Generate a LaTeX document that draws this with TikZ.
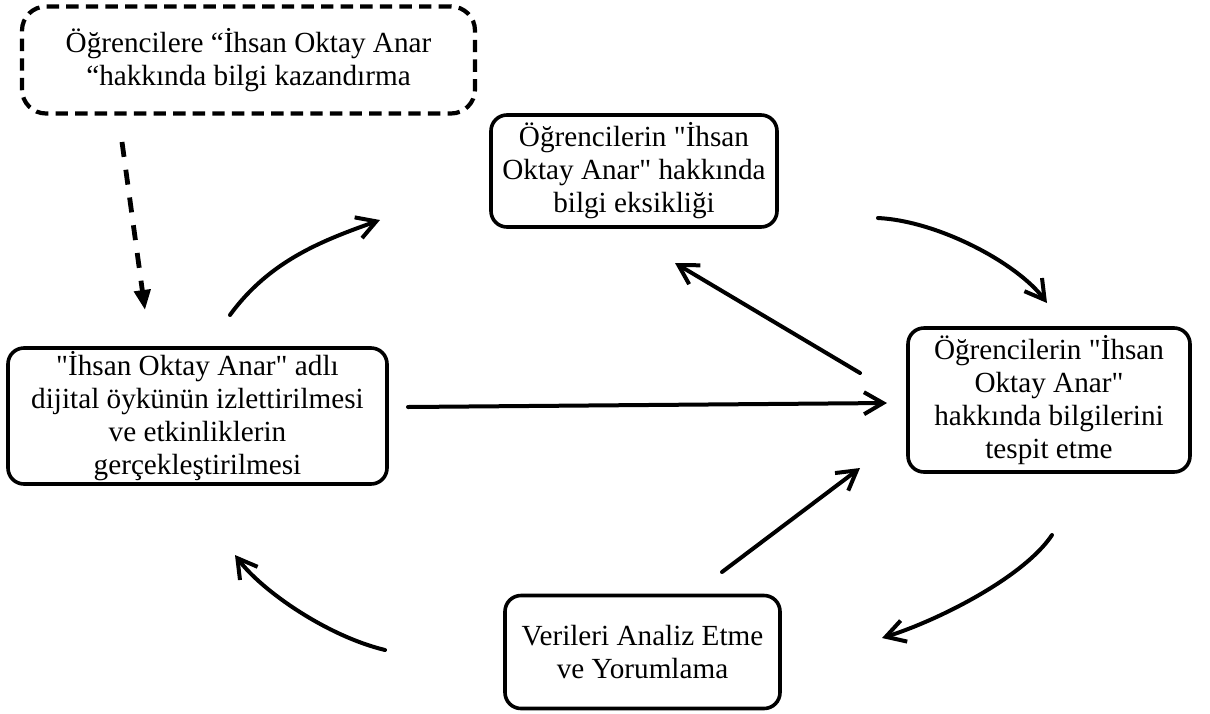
\documentclass[tikz,border=0pt]{standalone}
\usepackage{fontspec}
% straight double quotes must stay straight
\setmainfont{Liberation Serif}[Ligatures=TeXOff]
\usetikzlibrary{arrows.meta}
\begin{document}
\begin{tikzpicture}[x=0.5pt,y=-0.5pt,
  box/.style={draw, line width=1.8pt, rounded corners=8pt, align=center,
    inner sep=0pt, font=\fontsize{14.6pt}{16.5pt}\selectfont},
  goalbox/.style={box, line width=2.1pt, dash pattern=on 6.2pt off 3.6pt,
    rounded corners=12pt},
  flow/.style={line width=2pt, line cap=round,
    -{Straight Barb[length=9.5pt,width=11pt,line width=2pt]}},
  guide/.style={line width=2.4pt, dash pattern=on 7.5pt off 6.5pt,
    -{Triangle[length=10pt,width=8pt]}}
]
\useasboundingbox (0,0) rectangle (1210,713);

% boxes
\node[goalbox, minimum width=226.5pt, minimum height=53.5pt] (goal) at (248.5,60)
  {Öğrencilere “İhsan Oktay Anar\\“hakkında bilgi kazandırma};
\node[box, minimum width=143pt, minimum height=56pt] (lack) at (634,171)
  {Öğrencilerin "İhsan\\Oktay Anar" hakkında\\bilgi eksikliği};
\node[box, minimum width=141pt, minimum height=72pt] (detect) at (1049,400)
  {Öğrencilerin "İhsan\\Oktay Anar"\\hakkında bilgilerini\\tespit etme};
\node[box, minimum width=189.5pt, minimum height=68pt] (story) at (197.5,416)
  {"İhsan Oktay Anar" adlı\\dijital öykünün izlettirilmesi\\ve etkinliklerin\\gerçekleştirilmesi};
\node[box, minimum width=137.5pt, minimum height=56.5pt] (analyse) at (642.5,652)
  {Verileri Analiz Etme\\ve Yorumlama};

% free ends of the connectors
\coordinate (goal-out)    at (122,142);
\coordinate (story-in)    at (145,310);
\coordinate (story-up)    at (230,315);
\coordinate (lack-in)     at (380,220);
\coordinate (lack-out)    at (878,218);
\coordinate (detect-in)   at (1047,303);
\coordinate (detect-back) at (860,373);
\coordinate (lack-back)   at (675,263);
\coordinate (story-out)   at (408,407);
\coordinate (detect-side) at (887,403);
\coordinate (analyse-up)  at (722,572);
\coordinate (detect-low)  at (860,468);
\coordinate (detect-down) at (1052,535);
\coordinate (analyse-in)  at (882,638);
\coordinate (analyse-out) at (385,650);
\coordinate (story-back)  at (235,555);

% connectors
\draw[guide] (goal-out) -- (story-in);
\draw[flow] (story-up) .. controls +(40,-55) and +(-56,20) .. (lack-in);
\draw[flow] (lack-out) .. controls +(60,3) and +(-30,-40) .. (detect-in);
\draw[flow] (detect-back) -- (lack-back);
\draw[flow] (story-out) -- (detect-side);
\draw[flow] (analyse-up) -- (detect-low);
\draw[flow] (detect-down) .. controls +(-28,42) and +(57,-18) .. (analyse-in);
\draw[flow] (analyse-out) .. controls +(-58,-14) and +(27,36) .. (story-back);
\end{tikzpicture}
\end{document}
